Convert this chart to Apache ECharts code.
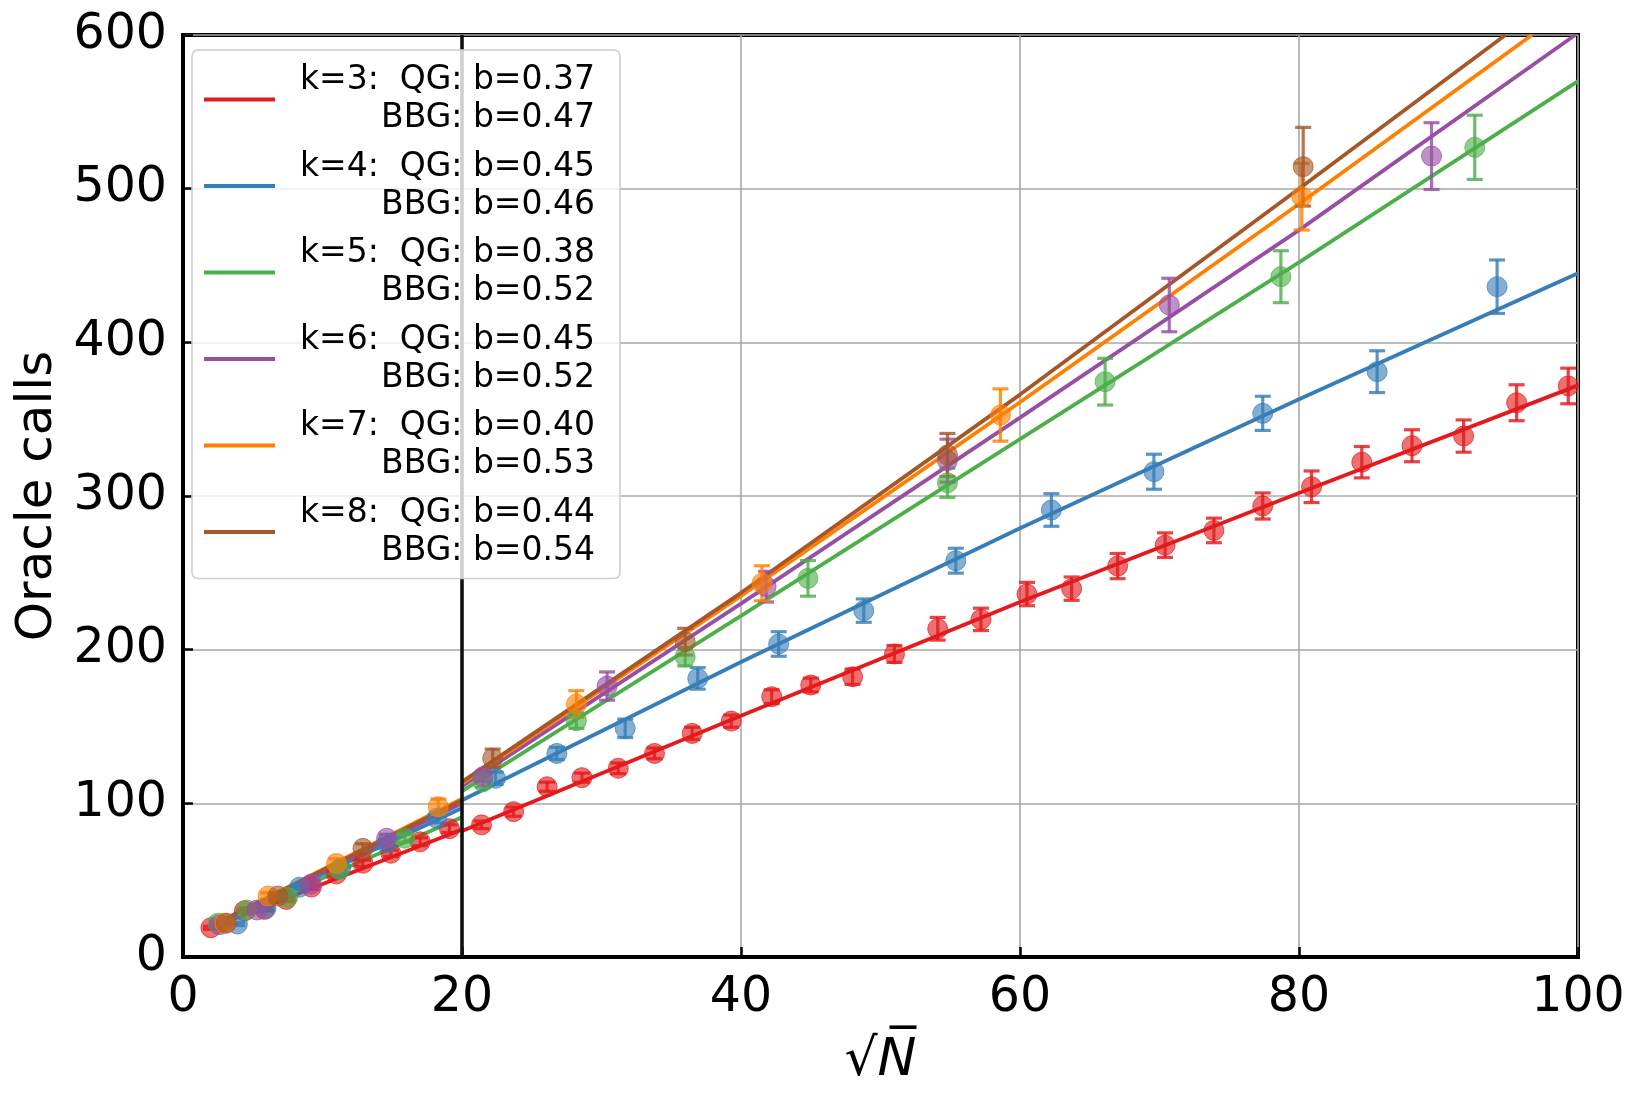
<!DOCTYPE html>
<html>
<head>
<meta charset="utf-8">
<script src="https://cdn.jsdelivr.net/npm/echarts@6/dist/echarts.min.js"></script>
<style>
html,body{margin:0;padding:0;background:#fff;}
#chart{width:1642px;height:1105px;}
</style>
</head>
<body>
<div id="chart"></div>
<script>
// ---------- data ----------
const kNames = ['k=3', 'k=4', 'k=5', 'k=6', 'k=7', 'k=8'];
const colors = ['#e41a1c', '#377eb8', '#4daf4a', '#984ea3', '#ff7f00', '#a65628'];
const legendQG  = ['0.37', '0.45', '0.38', '0.45', '0.40', '0.44'];
const legendBBG = ['0.47', '0.46', '0.52', '0.52', '0.53', '0.54'];

const xTicks = [0, 20, 40, 60, 80, 100];
const yTicks = [0, 100, 200, 300, 400, 500, 600];
const splitX = 20;

// k=3 (red)
const k3_x   = [2.0, 4.4, 5.85, 7.4, 9.2, 11.0, 12.9, 14.9, 17.0, 19.1, 21.4, 23.7, 26.1, 28.6, 31.2, 33.8, 36.5, 39.3, 42.2, 45.0, 48.0, 51.0, 54.1, 57.2, 60.5, 63.7, 67.0, 70.4, 73.9, 77.4, 80.9, 84.5, 88.1, 91.8, 95.6, 99.3];
const k3_y   = [19, 30, 31, 37.5, 45.5, 54, 61, 67.5, 75, 83.5, 86, 94.6, 110.8, 116.7, 122.8, 132.5, 145.5, 153.5, 169.4, 177, 182.4, 197.2, 213.6, 219.7, 236.2, 239.7, 254.4, 268, 277.6, 293.5, 306, 322, 332.7, 339, 360.7, 371.6];
const k3_err = [1, 1, 1, 1.5, 1.5, 2, 2, 2, 2.5, 2.5, 2.5, 3, 3, 3, 3.5, 3.5, 4, 4, 4.5, 4.5, 5, 5.5, 7.4, 7.3, 7.6, 7.6, 8.2, 8, 8, 8.5, 10.3, 10.2, 10.4, 10.5, 11.7, 11.6];
// k=4 (blue)
const k4_x   = [3.9, 5.95, 8.35, 11.3, 14.6, 18.2, 22.4, 26.8, 31.7, 36.9, 42.7, 48.8, 55.4, 62.25, 69.6, 77.4, 85.6, 94.2];
const k4_y   = [21.5, 31.7, 45.4, 57.5, 74, 90.3, 116.3, 132.5, 148.8, 181.3, 203.7, 225.4, 257.9, 290.9, 315.8, 353.8, 380.9, 436.2];
const k4_err = [1, 1.5, 1.5, 2, 2.5, 3, 4, 4, 6, 7, 8, 7.6, 8.1, 10.6, 11.4, 11.1, 13.6, 17.4];
// k=5 (green)
const k5_x   = [2.5, 4.55, 7.5, 11.2, 15.9, 21.5, 28.2, 36.0, 44.8, 54.8, 66.1, 78.7, 92.6];
const k5_y   = [22, 30.6, 38.8, 57, 77.3, 114, 153.8, 195.4, 246.4, 308.6, 374.4, 442.7, 526.9];
const k5_err = [1, 1.5, 1.5, 2, 2.5, 3.5, 5, 6, 11.6, 9.5, 15.2, 16.9, 20.9];
// k=6 (purple)
const k6_x   = [2.6, 5.3, 9.2, 14.6, 21.5, 30.4, 41.8, 54.8, 70.7, 89.5];
const k6_y   = [21, 30.6, 47.5, 77.3, 117.3, 176.3, 241, 323, 424.3, 521.2];
const k6_err = [1, 1.5, 2, 2.5, 3, 9.2, 10, 14, 17.4, 21.7];
// k=7 (orange)
const k7_x   = [3.0, 6.1, 11.0, 18.3, 28.2, 41.5, 58.6, 80.2];
const k7_y   = [22, 39.7, 60.9, 97.8, 164.6, 243.2, 352.7, 494.8];
const k7_err = [1, 2, 3, 5, 8.7, 11.4, 17, 21.7];
// k=8 (brown)
const k8_x   = [3.1, 6.8, 12.9, 22.2, 36.0, 54.8, 80.3];
const k8_y   = [22, 39.7, 70.7, 129.3, 205.2, 326.7, 514.3];
const k8_err = [1, 2, 3, 6, 8.7, 14, 25.6];

// fitted curves: left part (QG, sqrt(N) < 20) and right part (BBG, sqrt(N) > 20)
const k3_fitLX = [2, 20], k3_fitLY = [19, 83];
const k4_fitLX = [2, 20], k4_fitLY = [19.5, 97];
const k5_fitLX = [2, 20], k5_fitLY = [19.5, 91];
const k6_fitLX = [2, 20], k6_fitLY = [20, 100];
const k7_fitLX = [2, 20], k7_fitLY = [20, 103];
const k8_fitLX = [2, 20], k8_fitLY = [20, 102];

const k3_fitRX = [20, 40, 60, 80, 100],  k3_fitRY = [82, 157, 231, 302, 372];
const k4_fitRX = [20, 40, 60, 80, 100],  k4_fitRY = [102, 192, 279, 363, 445];
const k5_fitRX = [20, 40, 60, 80, 100],  k5_fitRY = [108, 222, 337, 452, 570];
const k6_fitRX = [20, 40, 60, 80, 99.8], k6_fitRY = [111, 230, 351, 473, 600];
const k7_fitRX = [20, 40, 60, 80, 96.7], k7_fitRY = [113, 235, 361, 490, 600];
const k8_fitRX = [20, 40, 60, 80, 94.8], k8_fitRY = [114, 237, 366, 500, 600];

// ---------- build ----------
const pts = [
  [k3_x, k3_y, k3_err], [k4_x, k4_y, k4_err], [k5_x, k5_y, k5_err],
  [k6_x, k6_y, k6_err], [k7_x, k7_y, k7_err], [k8_x, k8_y, k8_err]
];
const fitsL = [[k3_fitLX, k3_fitLY], [k4_fitLX, k4_fitLY], [k5_fitLX, k5_fitLY], [k6_fitLX, k6_fitLY], [k7_fitLX, k7_fitLY], [k8_fitLX, k8_fitLY]];
const fitsR = [[k3_fitRX, k3_fitRY], [k4_fitRX, k4_fitRY], [k5_fitRX, k5_fitRY], [k6_fitRX, k6_fitRY], [k7_fitRX, k7_fitRY], [k8_fitRX, k8_fitRY]];

function zip(xs, ys) { return xs.map((x, i) => [x, ys[i]]); }
function zip3(xs, ys, es) { return xs.map((x, i) => [x, ys[i], es[i]]); }
function rgba(hex, a) {
  const n = parseInt(hex.slice(1), 16);
  return 'rgba(' + ((n >> 16) & 255) + ',' + ((n >> 8) & 255) + ',' + (n & 255) + ',' + a + ')';
}

const FONT = 'DejaVu Sans';
const series = [];
kNames.forEach((name, i) => {
  const c = colors[i];
  const lineData = zip(fitsL[i][0], fitsL[i][1]).concat([[splitX, '-']]).concat(zip(fitsR[i][0], fitsR[i][1]));
  series.push({
    name: name, type: 'line', data: lineData, showSymbol: false, symbol: 'none',
    connectNulls: false, smooth: false, silent: true, z: 2,
    lineStyle: { color: c, width: 3.8 }, itemStyle: { color: c },
    animation: false
  });
  const d = zip3(pts[i][0], pts[i][1], pts[i][2]);
  series.push({
    name: name + ' err', type: 'custom', data: d, z: 3, silent: true, animation: false,
    renderItem: function (params, api) {
      const x = api.value(0), y = api.value(1), e = api.value(2);
      const t = api.coord([x, y + e]), b = api.coord([x, y - e]);
      const hw = 8;
      const st = { stroke: rgba(c, 0.82), lineWidth: 3.2 };
      return { type: 'group', children: [
        { type: 'line', shape: { x1: t[0], y1: t[1], x2: b[0], y2: b[1] }, style: st },
        { type: 'line', shape: { x1: t[0] - hw, y1: t[1], x2: t[0] + hw, y2: t[1] }, style: st },
        { type: 'line', shape: { x1: b[0] - hw, y1: b[1], x2: b[0] + hw, y2: b[1] }, style: st }
      ]};
    }
  });
  series.push({
    name: name + ' pts', type: 'scatter', data: d, z: 3, silent: true, animation: false,
    symbol: 'circle', symbolSize: 20,
    itemStyle: { color: rgba(c, 0.78), borderColor: rgba(c, 0.9), borderWidth: 1 }
  });
});
// vertical reference line at sqrt(N) = 20
series.push({
  name: 'split', type: 'line', data: [], silent: true, z: 2, animation: false,
  markLine: {
    symbol: 'none', silent: true, label: { show: false },
    lineStyle: { color: '#111', width: 3.6, type: 'solid' },
    data: [{ xAxis: splitX }]
  }
});

const legendText = {};
kNames.forEach((n, i) => {
  legendText[n] = '{a|' + n + ':  QG: b=' + legendQG[i] + '}\n{a|BBG: b=' + legendBBG[i] + '}';
});

const chart = echarts.init(document.getElementById('chart'), null, { renderer: 'canvas' });
chart.setOption({
  backgroundColor: '#ffffff',
  animation: false,
  textStyle: { fontFamily: FONT },
  grid: { left: 183, right: 64, top: 35, bottom: 148, show: true, borderColor: '#000', borderWidth: 4, backgroundColor: 'transparent' },
  xAxis: {
    type: 'value', min: xTicks[0], max: xTicks[xTicks.length - 1], interval: 20,
    name: '{r|√}{n|N̅}', nameLocation: 'middle', nameGap: 78,
    nameTextStyle: {
      rich: {
        r: { fontFamily: FONT, fontSize: 52, color: '#000' },
        n: { fontFamily: FONT, fontSize: 52, fontStyle: 'italic', color: '#000' }
      }
    },
    axisLine: { show: true, lineStyle: { color: '#000', width: 4 } },
    axisTick: { show: true, inside: true, length: 10, lineStyle: { color: '#000', width: 2.5 } },
    axisLabel: { fontFamily: FONT, fontSize: 49, color: '#000', margin: 17 },
    splitLine: { show: true, lineStyle: { color: '#a9a9a9', width: 1.6 } }
  },
  yAxis: {
    type: 'value', min: yTicks[0], max: yTicks[yTicks.length - 1], interval: 100,
    name: 'Oracle calls', nameLocation: 'middle', nameGap: 120,
    nameTextStyle: { fontFamily: FONT, fontSize: 50, color: '#000' },
    axisLine: { show: true, lineStyle: { color: '#000', width: 4 } },
    axisTick: { show: true, inside: true, length: 10, lineStyle: { color: '#000', width: 2.5 } },
    axisLabel: { fontFamily: FONT, fontSize: 49, color: '#000', margin: 16 },
    splitLine: { show: true, lineStyle: { color: '#a9a9a9', width: 1.6 } }
  },
  legend: {
    data: kNames, orient: 'vertical', left: 192, top: 50, z: 10,
    icon: 'rect', itemWidth: 71, itemHeight: 4, itemGap: 15.5,
    padding: [14, 25, 11, 12],
    backgroundColor: 'rgba(255,255,255,0.8)', borderColor: '#cccccc', borderWidth: 1.5, borderRadius: 6,
    selectedMode: false,
    formatter: function (n) { return legendText[n]; },
    textStyle: {
      fontFamily: FONT, fontSize: 33, color: '#000',
      rich: { a: { fontFamily: FONT, fontSize: 33, color: '#000', width: 315, align: 'right', lineHeight: 38 } }
    }
  },
  series: series
});
</script>
</body>
</html>
